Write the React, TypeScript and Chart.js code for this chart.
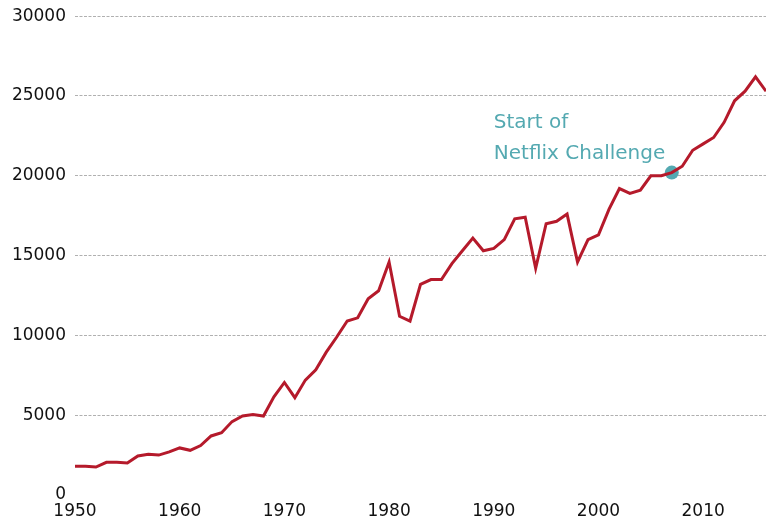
import React, { useEffect, useRef } from "react";
import { Chart, registerables } from "chart.js";

Chart.register(...registerables);

const years: number[] = [];
for (let y = 1950; y <= 2016; y++) years.push(y);

const values: number[] = [
  1800, 1800, 1750, 2050, 2050, 2000, 2450, 2550, 2500, 2700,
  2950, 2800, 3100, 3700, 3900, 4600, 4950, 5050, 4950, 6150,
  7050, 6100, 7200, 7850, 8950, 9900, 10900, 11100, 12300, 12800,
  14600, 11200, 10900, 13200, 13500, 13500, 14500, 15300, 16100, 15300,
  15450, 16000, 17300, 17400, 14200, 17000, 17150, 17600, 14600, 16000,
  16300, 17900, 19200, 18900, 19100, 20000, 20000, 20200, 20600, 21600,
  22000, 22400, 23350, 24700, 25300, 26200, 25300,
];

const markerYear = 2007;
const markerValue = 20200;
const annotationLines = ["Start of", "Netflix Challenge"];
const annotationX = 1990;
const annotationY = [23300, 21350];

const xTicks = [1950, 1960, 1970, 1980, 1990, 2000, 2010];

const FONT = "'DejaVu Sans', sans-serif";
const TEAL = "#54a9b1";
const RED = "#b51a2b";

export default function App() {
  const ref = useRef<HTMLCanvasElement | null>(null);
  useEffect(() => {
    document.body.style.margin = "0";
    const annot = {
      id: "annot",
      afterDatasetsDraw(chart: any) {
        const ctx = chart.ctx;
        const xs = chart.scales.x;
        const ys = chart.scales.y;
        ctx.save();
        ctx.fillStyle = TEAL;
        ctx.font = "20px " + FONT;
        ctx.textAlign = "left";
        ctx.textBaseline = "middle";
        annotationLines.forEach((t, i) => {
          ctx.fillText(t, xs.getPixelForValue(annotationX), ys.getPixelForValue(annotationY[i]));
        });
        ctx.restore();
      },
    };
    const chart = new Chart(ref.current as HTMLCanvasElement, {
      type: "line",
      data: {
        datasets: [
          {
            data: [{ x: markerYear, y: markerValue }],
            pointRadius: 7,
            pointBackgroundColor: TEAL,
            pointBorderWidth: 0,
            showLine: false,
            order: 2,
          } as any,
          {
            data: years.map((y, i) => ({ x: y, y: values[i] })),
            borderColor: RED,
            borderWidth: 3,
            pointRadius: 0,
            tension: 0,
            order: 1,
          },
        ],
      },
      plugins: [annot],
      options: {
        animation: false,
        responsive: false,
        maintainAspectRatio: false,
        layout: { padding: { top: 13, right: 0, left: 0, bottom: 0 } },
        plugins: { legend: { display: false }, tooltip: { enabled: false } },
        scales: {
          x: {
            type: "linear",
            min: 1950,
            max: 2016,
            afterBuildTicks: (s: any) => {
              s.ticks = xTicks.map((v) => ({ value: v }));
            },
            grid: { display: false, drawTicks: false },
            border: { display: false },
            ticks: {
              font: { family: FONT, size: 17 },
              color: "#111",
              padding: 6,
              maxRotation: 0,
              autoSkip: false,
              callback: (v: any) => String(v),
            },
            afterFit: (s: any) => {
              s.height = 27;
            },
          },
          y: {
            min: 0,
            max: 30000,
            ticks: {
              stepSize: 5000,
              font: { family: FONT, size: 17 },
              color: "#111",
              padding: 9,
              callback: (v: any) => String(v),
            },
            grid: {
              color: (c: any) => (c.tick && c.tick.value === 0 ? "rgba(0,0,0,0)" : "#b0b0b0"),
              lineWidth: 1,
              drawTicks: false,
            },
            border: { display: false, dash: [3, 1.5] },
            afterFit: (s: any) => {
              s.width = 75;
            },
          },
        },
      },
    });
    return () => chart.destroy();
  }, []);
  return (
    <div style={{ position: "absolute", left: 0, top: 0, width: 766, height: 522, overflow: "hidden" }}>
      <canvas
        ref={ref}
        width={773}
        height={525}
        style={{ position: "absolute", left: 0, top: -3 }}
      />
    </div>
  );
}
